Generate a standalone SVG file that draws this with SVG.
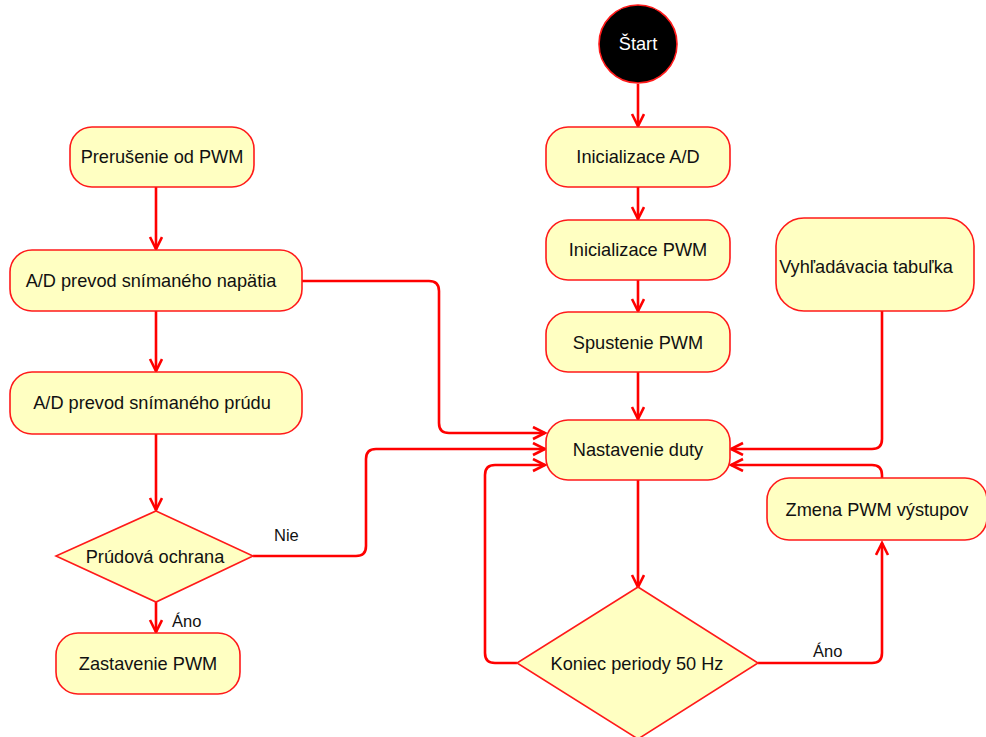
<svg xmlns="http://www.w3.org/2000/svg" width="986" height="737" viewBox="0 0 986 737">
<style>
.n{fill:#ffffc2;stroke:#ff1a1a;stroke-width:1.6}
.t{font-family:"Liberation Sans",Arial,sans-serif;font-size:18.2px;fill:#111;text-anchor:middle}
.c{fill:none;stroke:#ff0000;stroke-width:2.6;stroke-linejoin:round}
.l{font-family:"Liberation Sans",Arial,sans-serif;font-size:16.5px;fill:#111}
</style>
<defs>
<marker id="a" markerUnits="userSpaceOnUse" markerWidth="16" markerHeight="16" refX="13" refY="7" orient="auto">
<path d="M1,1 L13,7 L1,13" fill="none" stroke="#ff0000" stroke-width="2.6"/>
</marker>
</defs>
<rect width="986" height="737" fill="#ffffff"/>
<g id="connectors">
<path class="c" d="M638,84 V126" marker-end="url(#a)"/>
<path class="c" d="M638,187 V219" marker-end="url(#a)"/>
<path class="c" d="M638,280 V311" marker-end="url(#a)"/>
<path class="c" d="M638,372 V419" marker-end="url(#a)"/>
<path class="c" d="M638,480 V587" marker-end="url(#a)"/>
<path class="c" d="M517,663 H495 Q485,663 485,653 V475 Q485,465 495,465 H545" marker-end="url(#a)"/>
<path class="c" d="M758,663 H872 Q882,663 882,653 V543" marker-end="url(#a)"/>
<path class="c" d="M882,478 V475 Q882,465 872,465 H731" marker-end="url(#a)"/>
<path class="c" d="M882,311 V439 Q882,449 872,449 H731" marker-end="url(#a)"/>
<path class="c" d="M302,281 H429 Q439,281 439,291 V423 Q439,433 449,433 H545" marker-end="url(#a)"/>
<path class="c" d="M253,556 H356 Q366,556 366,546 V459 Q366,449 376,449 H545" marker-end="url(#a)"/>
<path class="c" d="M156,187 V249" marker-end="url(#a)"/>
<path class="c" d="M156,311 V371" marker-end="url(#a)"/>
<path class="c" d="M156,434 V510" marker-end="url(#a)"/>
<path class="c" d="M156,602 V632" marker-end="url(#a)"/>
<text class="l" x="274" y="541">Nie</text>
<text class="l" x="172" y="627">Áno</text>
<text class="l" x="813" y="657">Áno</text>
</g>
<g id="start">
<ellipse cx="638" cy="44" rx="39" ry="39" fill="#000" stroke="#ff1a1a" stroke-width="1.6"/>
<text class="t" x="638" y="50" style="fill:#fff">Štart</text>
</g>
<g id="init-ad">
<rect class="n" x="546" y="127" width="184" height="60" rx="22"/>
<text class="t" x="638" y="163">Inicializace A/D</text>
</g>
<g id="init-pwm">
<rect class="n" x="546" y="220" width="184" height="60" rx="22"/>
<text class="t" x="638" y="256">Inicializace PWM</text>
</g>
<g id="spustenie">
<rect class="n" x="546" y="312" width="184" height="60" rx="22"/>
<text class="t" x="638" y="349">Spustenie PWM</text>
</g>
<g id="nastavenie">
<rect class="n" x="546" y="420" width="184" height="60" rx="22"/>
<text class="t" x="638" y="456">Nastavenie duty</text>
</g>
<g id="koniec">
<polygon class="n" points="638,587 758,663 638,739 517,663"/>
<text class="t" x="637" y="670">Koniec periody 50 Hz</text>
</g>
<g id="zmena">
<rect class="n" x="767" y="478" width="220" height="62" rx="22"/>
<text class="t" x="877" y="516">Zmena PWM výstupov</text>
</g>
<g id="vyhladavacia">
<rect class="n" x="776" y="218" width="198" height="93" rx="28"/>
<text class="t" x="866" y="273">Vyhľadávacia tabuľka</text>
</g>
<g id="prerusenie">
<rect class="n" x="70" y="127" width="184" height="60" rx="22"/>
<text class="t" x="162" y="163">Prerušenie od PWM</text>
</g>
<g id="ad-napatia">
<rect class="n" x="10" y="250" width="292" height="61" rx="22"/>
<text class="t" x="151" y="287">A/D prevod snímaného napätia</text>
</g>
<g id="ad-prudu">
<rect class="n" x="10" y="372" width="292" height="62" rx="22"/>
<text class="t" x="152" y="409">A/D prevod snímaného prúdu</text>
</g>
<g id="prudova">
<polygon class="n" points="156,511 253,556 156,602 56,556"/>
<text class="t" x="155" y="563">Prúdová ochrana</text>
</g>
<g id="zastavenie">
<rect class="n" x="56" y="633" width="184" height="61" rx="22"/>
<text class="t" x="148" y="670">Zastavenie PWM</text>
</g>
</svg>
